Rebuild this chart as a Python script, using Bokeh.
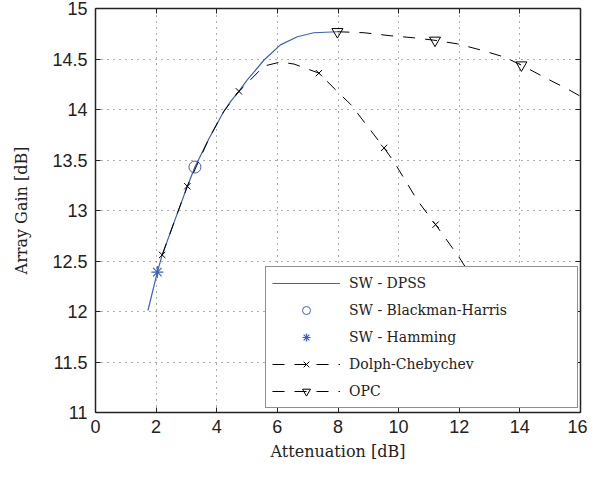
from bokeh.plotting import figure
from bokeh.models import Legend, LegendItem, LinearAxis, FixedTicker, Range1d
from bokeh.embed import file_html
from bokeh.resources import INLINE

# ---- data ----
dpss_x = [1.73, 2.04, 2.2, 2.6, 3.03, 3.28, 3.74, 4.23, 4.46, 4.73, 5.0, 5.56, 6.1, 6.66, 7.2, 7.98]
dpss_y = [12.01, 12.39, 12.56, 12.89, 13.24, 13.43, 13.71, 13.98, 14.08, 14.18, 14.29, 14.49, 14.64, 14.72, 14.76, 14.77]

bh_x = [3.28]
bh_y = [13.43]

ham_x = [2.04]
ham_y = [12.39]

dc_x = [2.2, 2.6, 3.03, 3.74, 4.23, 4.73, 5.0, 5.56, 6.1, 6.55, 7.37, 7.97, 8.42, 9.52, 9.85, 10.62, 11.22, 11.99, 12.5]
dc_y = [12.56, 12.89, 13.24, 13.71, 13.98, 14.18, 14.26, 14.43, 14.47, 14.45, 14.36, 14.18, 14.05, 13.62, 13.48, 13.10, 12.86, 12.54, 12.30]
dc_mx = [2.2, 3.03, 4.73, 7.37, 9.52, 11.22]
dc_my = [12.56, 13.24, 14.18, 14.36, 13.62, 12.86]

opc_x = [7.98, 8.86, 9.74, 10.5, 11.2, 11.94, 12.7, 13.48, 14.05, 14.8, 15.65, 16.0]
opc_y = [14.77, 14.76, 14.73, 14.71, 14.685, 14.65, 14.59, 14.52, 14.44, 14.32, 14.19, 14.13]
opc_mx = [7.98, 11.2, 14.05]
opc_my = [14.77, 14.685, 14.44]

x_ticks = [0, 2, 4, 6, 8, 10, 12, 14, 16]
y_ticks = [11, 11.5, 12, 12.5, 13, 13.5, 14, 14.5, 15]
y_tick_labels = ["11", "11.5", "12", "12.5", "13", "13.5", "14", "14.5", "15"]

labels = ["SW - DPSS", "SW - Blackman-Harris", "SW - Hamming", "Dolph-Chebychev", "OPC"]

BLUE = "#3F5FBF"
SERIF = "DejaVu Serif"
SANS = "Liberation Sans"

p = figure(width=587, height=465, x_range=Range1d(0, 16), y_range=Range1d(11, 15),
           output_backend="svg", toolbar_location=None,
           min_border_left=95, min_border_right=7, min_border_top=8, min_border_bottom=53)
p.outline_line_color = None
p.background_fill_color = "white"
p.border_fill_color = "white"

# axes
for ax in (p.xaxis[0], p.yaxis[0]):
    ax.major_tick_in = 5
    ax.major_tick_out = 0
    ax.minor_tick_line_color = None
    ax.axis_line_color = "#222222"
    ax.axis_line_width = 1.5
    ax.major_tick_line_color = "#222222"
    ax.major_label_text_font = SANS
    ax.major_label_text_font_size = "18px"
    ax.major_label_text_color = "#222222"
    ax.axis_label_text_font = SERIF
    ax.axis_label_text_font_size = "16px"
    ax.axis_label_text_font_style = "normal"
    ax.axis_label_text_color = "#222222"

p.xaxis.ticker = FixedTicker(ticks=x_ticks)
p.yaxis.ticker = FixedTicker(ticks=y_ticks)
p.yaxis.major_label_overrides = {t: l for t, l in zip(y_ticks, y_tick_labels)}
p.xaxis.axis_label = "Attenuation [dB]"
p.yaxis.axis_label = "Array Gain [dB]"
p.xaxis.major_label_standoff = 7
p.yaxis.major_label_standoff = 8
p.xaxis.axis_label_standoff = 6
p.yaxis.axis_label_standoff = 18

top = LinearAxis(ticker=FixedTicker(ticks=x_ticks))
right = LinearAxis(ticker=FixedTicker(ticks=y_ticks))
top.major_label_overrides = {t: "" for t in x_ticks}
right.major_label_overrides = {t: "" for t in y_ticks}
for ax in (top, right):
    ax.major_tick_in = 5
    ax.major_tick_out = 0
    ax.minor_tick_line_color = None
    ax.axis_line_color = "#222222"
    ax.axis_line_width = 1.5
    ax.major_tick_line_color = "#222222"
    ax.major_label_text_font_size = "1px"
    ax.major_label_standoff = 0
p.add_layout(top, "above")
p.add_layout(right, "right")

p.xgrid.grid_line_color = "#333333"
p.ygrid.grid_line_color = "#333333"
p.xgrid.grid_line_dash = "1 5"
p.ygrid.grid_line_dash = "1 5"
p.xgrid.grid_line_alpha = 0.8
p.ygrid.grid_line_alpha = 0.8

# series
r_dpss = p.line(dpss_x, dpss_y, line_color=BLUE, line_width=1.2)
r_bh = p.scatter(bh_x, bh_y, marker="circle", size=12, fill_color=None, line_color=BLUE, line_width=1)
r_ham = p.scatter(ham_x, ham_y, marker="asterisk", size=12, line_color=BLUE, line_width=1.2)
r_dc = p.line(dc_x, dc_y, line_color="black", line_width=1, line_dash="12 10")
r_dcm = p.scatter(dc_mx, dc_my, marker="x", size=9, line_color="black", line_width=1)
r_opc = p.line(opc_x, opc_y, line_color="black", line_width=1, line_dash="12 10")
r_opcm = p.scatter(opc_mx, opc_my, marker="inverted_triangle", size=11, fill_color=None,
                   line_color="black", line_width=1)

legend = Legend(items=[
    LegendItem(label=labels[0], renderers=[r_dpss]),
    LegendItem(label=labels[1], renderers=[r_bh]),
    LegendItem(label=labels[2], renderers=[r_ham]),
    LegendItem(label=labels[3], renderers=[r_dc, r_dcm]),
    LegendItem(label=labels[4], renderers=[r_opc, r_opcm]),
], location=(170, 4))
legend.margin = 0
legend.padding = 6
legend.spacing = 7
legend.glyph_width = 68
legend.glyph_height = 20
legend.label_height = 20
legend.label_standoff = 9
legend.label_width = 222
legend.label_text_font = SERIF
legend.label_text_font_size = "14px"
legend.label_text_color = "#222222"
legend.border_line_color = "#222222"
legend.border_line_width = 1
legend.background_fill_color = "white"
legend.background_fill_alpha = 1
p.add_layout(legend, "center")

open("out.html", "w").write(file_html(p, INLINE))
